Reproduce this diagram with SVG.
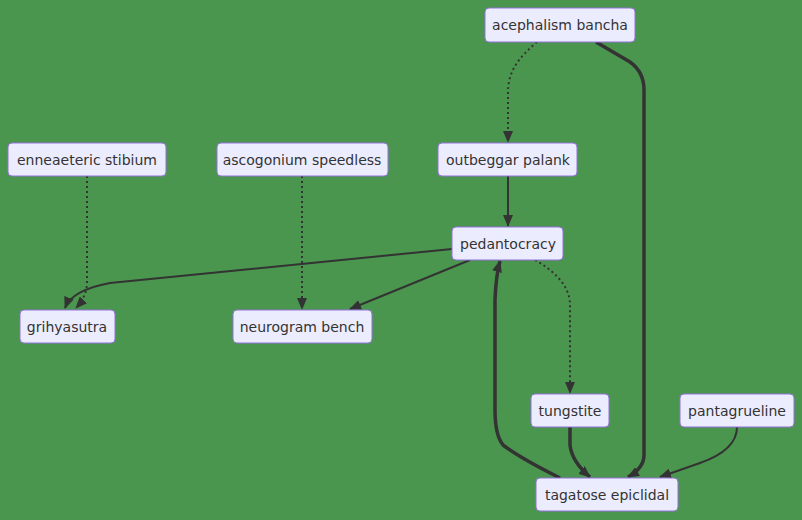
<svg xmlns="http://www.w3.org/2000/svg" width="802" height="520" viewBox="0 0 802 520">
<style>
.node rect{fill:#ECECFF;stroke:#9370DB;stroke-width:1}
.node text{font-family:"DejaVu Sans",sans-serif;font-size:14px;fill:#333;text-anchor:middle;dominant-baseline:central}
.e{fill:none;stroke:#333;stroke-width:2}
.d{stroke-dasharray:2 3}
.t{stroke-width:3.5}
</style>
<defs>
<marker id="a" viewBox="0 0 12 10" refX="11" refY="5" markerWidth="12" markerHeight="10" markerUnits="userSpaceOnUse" orient="auto"><path d="M0,0 L12,5 L0,10 z" fill="#333"/></marker>
</defs>
<rect width="802" height="520" fill="#4B964E"/>
<g id="edges">
<path class="e d" d="M537,42 C518,58 508,72 508,92 L508,142" marker-end="url(#a)"/>
<path class="e t" d="M596,42 L630,62 Q644,72 644,90 L644,455 Q644,468 628,477" marker-end="url(#a)"/>
<path class="e d" d="M87,176 L87,282 Q87,296 76,308" marker-end="url(#a)"/>
<path class="e d" d="M302,176 L302,309" marker-end="url(#a)"/>
<path class="e" d="M508,176 L508,226" marker-end="url(#a)"/>
<path class="e" d="M452,249 L110,283 Q72,290 65,308" marker-end="url(#a)"/>
<path class="e" d="M470,260 L350,309" marker-end="url(#a)"/>
<path class="e d" d="M535,260 Q570,280 570,305 L570,393" marker-end="url(#a)"/>
<path class="e t" d="M570,427 L570,445 Q572,462 590,477" marker-end="url(#a)"/>
<path class="e" d="M737,427 Q737,450 700,463 L660,477" marker-end="url(#a)"/>
<path class="e t" d="M560,478 Q520,458 503,445 Q495,435 495,410 L495,300 Q496,275 500,261" marker-end="url(#a)"/>
</g>
<g id="acephalism" class="node"><rect x="485" y="8" width="150" height="34" rx="4"/><text x="560" y="25">acephalism bancha</text></g>
<g id="enneaeteric" class="node"><rect x="8" y="143" width="158" height="33" rx="4"/><text x="87" y="160">enneaeteric stibium</text></g>
<g id="ascogonium" class="node"><rect x="217" y="143" width="171" height="33" rx="4"/><text x="302" y="160">ascogonium speedless</text></g>
<g id="outbeggar" class="node"><rect x="438" y="143" width="139" height="33" rx="4"/><text x="508" y="160">outbeggar palank</text></g>
<g id="pedantocracy" class="node"><rect x="452" y="227" width="111" height="33" rx="4"/><text x="508" y="244">pedantocracy</text></g>
<g id="grihyasutra" class="node"><rect x="20" y="310" width="95" height="33" rx="4"/><text x="67" y="327">grihyasutra</text></g>
<g id="neurogram" class="node"><rect x="233" y="310" width="139" height="33" rx="4"/><text x="302" y="327">neurogram bench</text></g>
<g id="tungstite" class="node"><rect x="531" y="394" width="78" height="33" rx="4"/><text x="570" y="411">tungstite</text></g>
<g id="pantagrueline" class="node"><rect x="680" y="394" width="114" height="33" rx="4"/><text x="737" y="411">pantagrueline</text></g>
<g id="tagatose" class="node"><rect x="536" y="478" width="142" height="33" rx="4"/><text x="607" y="495">tagatose epiclidal</text></g>
</svg>
